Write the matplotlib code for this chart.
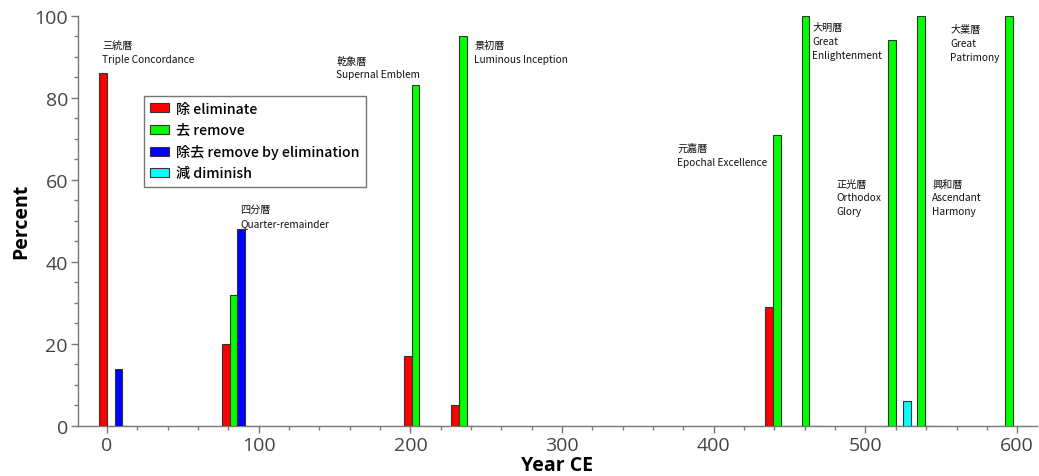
import matplotlib
matplotlib.use("Agg")
import matplotlib.pyplot as plt
from matplotlib.ticker import MultipleLocator
import numpy as np

plt.rcParams['font.family'] = ['Noto Sans CJK JP', 'DejaVu Sans']

# Data
calendars_zh = ["三統曆", "四分曆", "乾象曆", "景初曆", "元嘉曆", "大明曆", "正光曆", "興和曆", "大業曆"]
calendars_en = ["Triple Concordance", "Quarter-remainder", "Supernal Emblem", "Luminous Inception",
                "Epochal Excellence", "Great\nEnlightenment", "Orthodox\nGlory", "Ascendant\nHarmony",
                "Great\nPatrimony"]
years = [5, 86, 206, 237, 444, 463, 520, 539, 597]
eliminate = [86, 20, 17, 5, 29, 0, 0, 0, 0]
remove = [0, 32, 83, 95, 71, 100, 94, 100, 100]
remove_by_elim = [14, 48, 0, 0, 0, 0, 0, 0, 0]
diminish = [0, 0, 0, 0, 0, 0, 6, 0, 0]
series_labels = ["除 eliminate", "去 remove", "除去 remove by elimination", "減 diminish"]
series_colors = ["#ff0000", "#00ff00", "#0000ff", "#00ffff"]

# label positions (data coords: x year, y percent top)
label_x = [-3, 88, 151, 242, 376, 465, 481, 544, 556]
label_y = [94.0, 54.0, 90.3, 94.0, 69.0, 98.5, 60.3, 60.3, 98.0]

fig = plt.figure(figsize=(10.39, 4.77), dpi=100)
ax = fig.add_axes([0.0748, 0.1048, 0.9232, 0.8606])

w = 5.0
yrs = np.array(years, dtype=float)
series = [eliminate, remove, remove_by_elim, diminish]
for i, (vals, lab, col) in enumerate(zip(series, series_labels, series_colors)):
    ax.bar(yrs + (i - 1.5) * w, vals, width=w, color=col, edgecolor="#333333",
           linewidth=0.8, label=lab, zorder=3)

for zh, en, lx, ly in zip(calendars_zh, calendars_en, label_x, label_y):
    ax.text(lx, ly, zh + "\n" + en, fontsize=7.3, va="top", ha="left",
            linespacing=1.5, color="#111111")

ax.set_xlim(-19.3, 613)
ax.set_ylim(0, 100)
ax.xaxis.set_major_locator(MultipleLocator(100))
ax.xaxis.set_minor_locator(MultipleLocator(20))
ax.yaxis.set_major_locator(MultipleLocator(20))
ax.yaxis.set_minor_locator(MultipleLocator(5))

for s in ["top", "right"]:
    ax.spines[s].set_visible(False)
for s in ["left", "bottom"]:
    ax.spines[s].set_color("#777777")
    ax.spines[s].set_linewidth(1.0)

ax.tick_params(axis="both", which="major", direction="out", length=5, width=1,
               color="#777777", labelsize=14, labelcolor="#444444", pad=2)
ax.tick_params(axis="both", which="minor", direction="out", length=3, width=1,
               color="#777777")
for lbl in ax.get_xticklabels() + ax.get_yticklabels():
    lbl.set_family(["Open Sans", "DejaVu Sans"])

ax.set_xlabel("Year CE", fontsize=14, fontweight="bold", labelpad=1,
              family=["Open Sans", "DejaVu Sans"])
ax.set_ylabel("Percent", fontsize=14, fontweight="bold", labelpad=2,
              family=["Open Sans", "DejaVu Sans"])

leg = ax.legend(loc="upper left", bbox_to_anchor=(0.069, 0.805), borderaxespad=0,
                fontsize=10.2, frameon=True, fancybox=False, edgecolor="#777777",
                framealpha=1, handlelength=1.3, handleheight=0.6, handletextpad=0.5,
                borderpad=0.45, labelspacing=0.5)
leg.get_frame().set_linewidth(1.0)
for t in leg.get_texts():
    t.set_fontweight("medium")

fig.savefig("out.png", dpi=100)
